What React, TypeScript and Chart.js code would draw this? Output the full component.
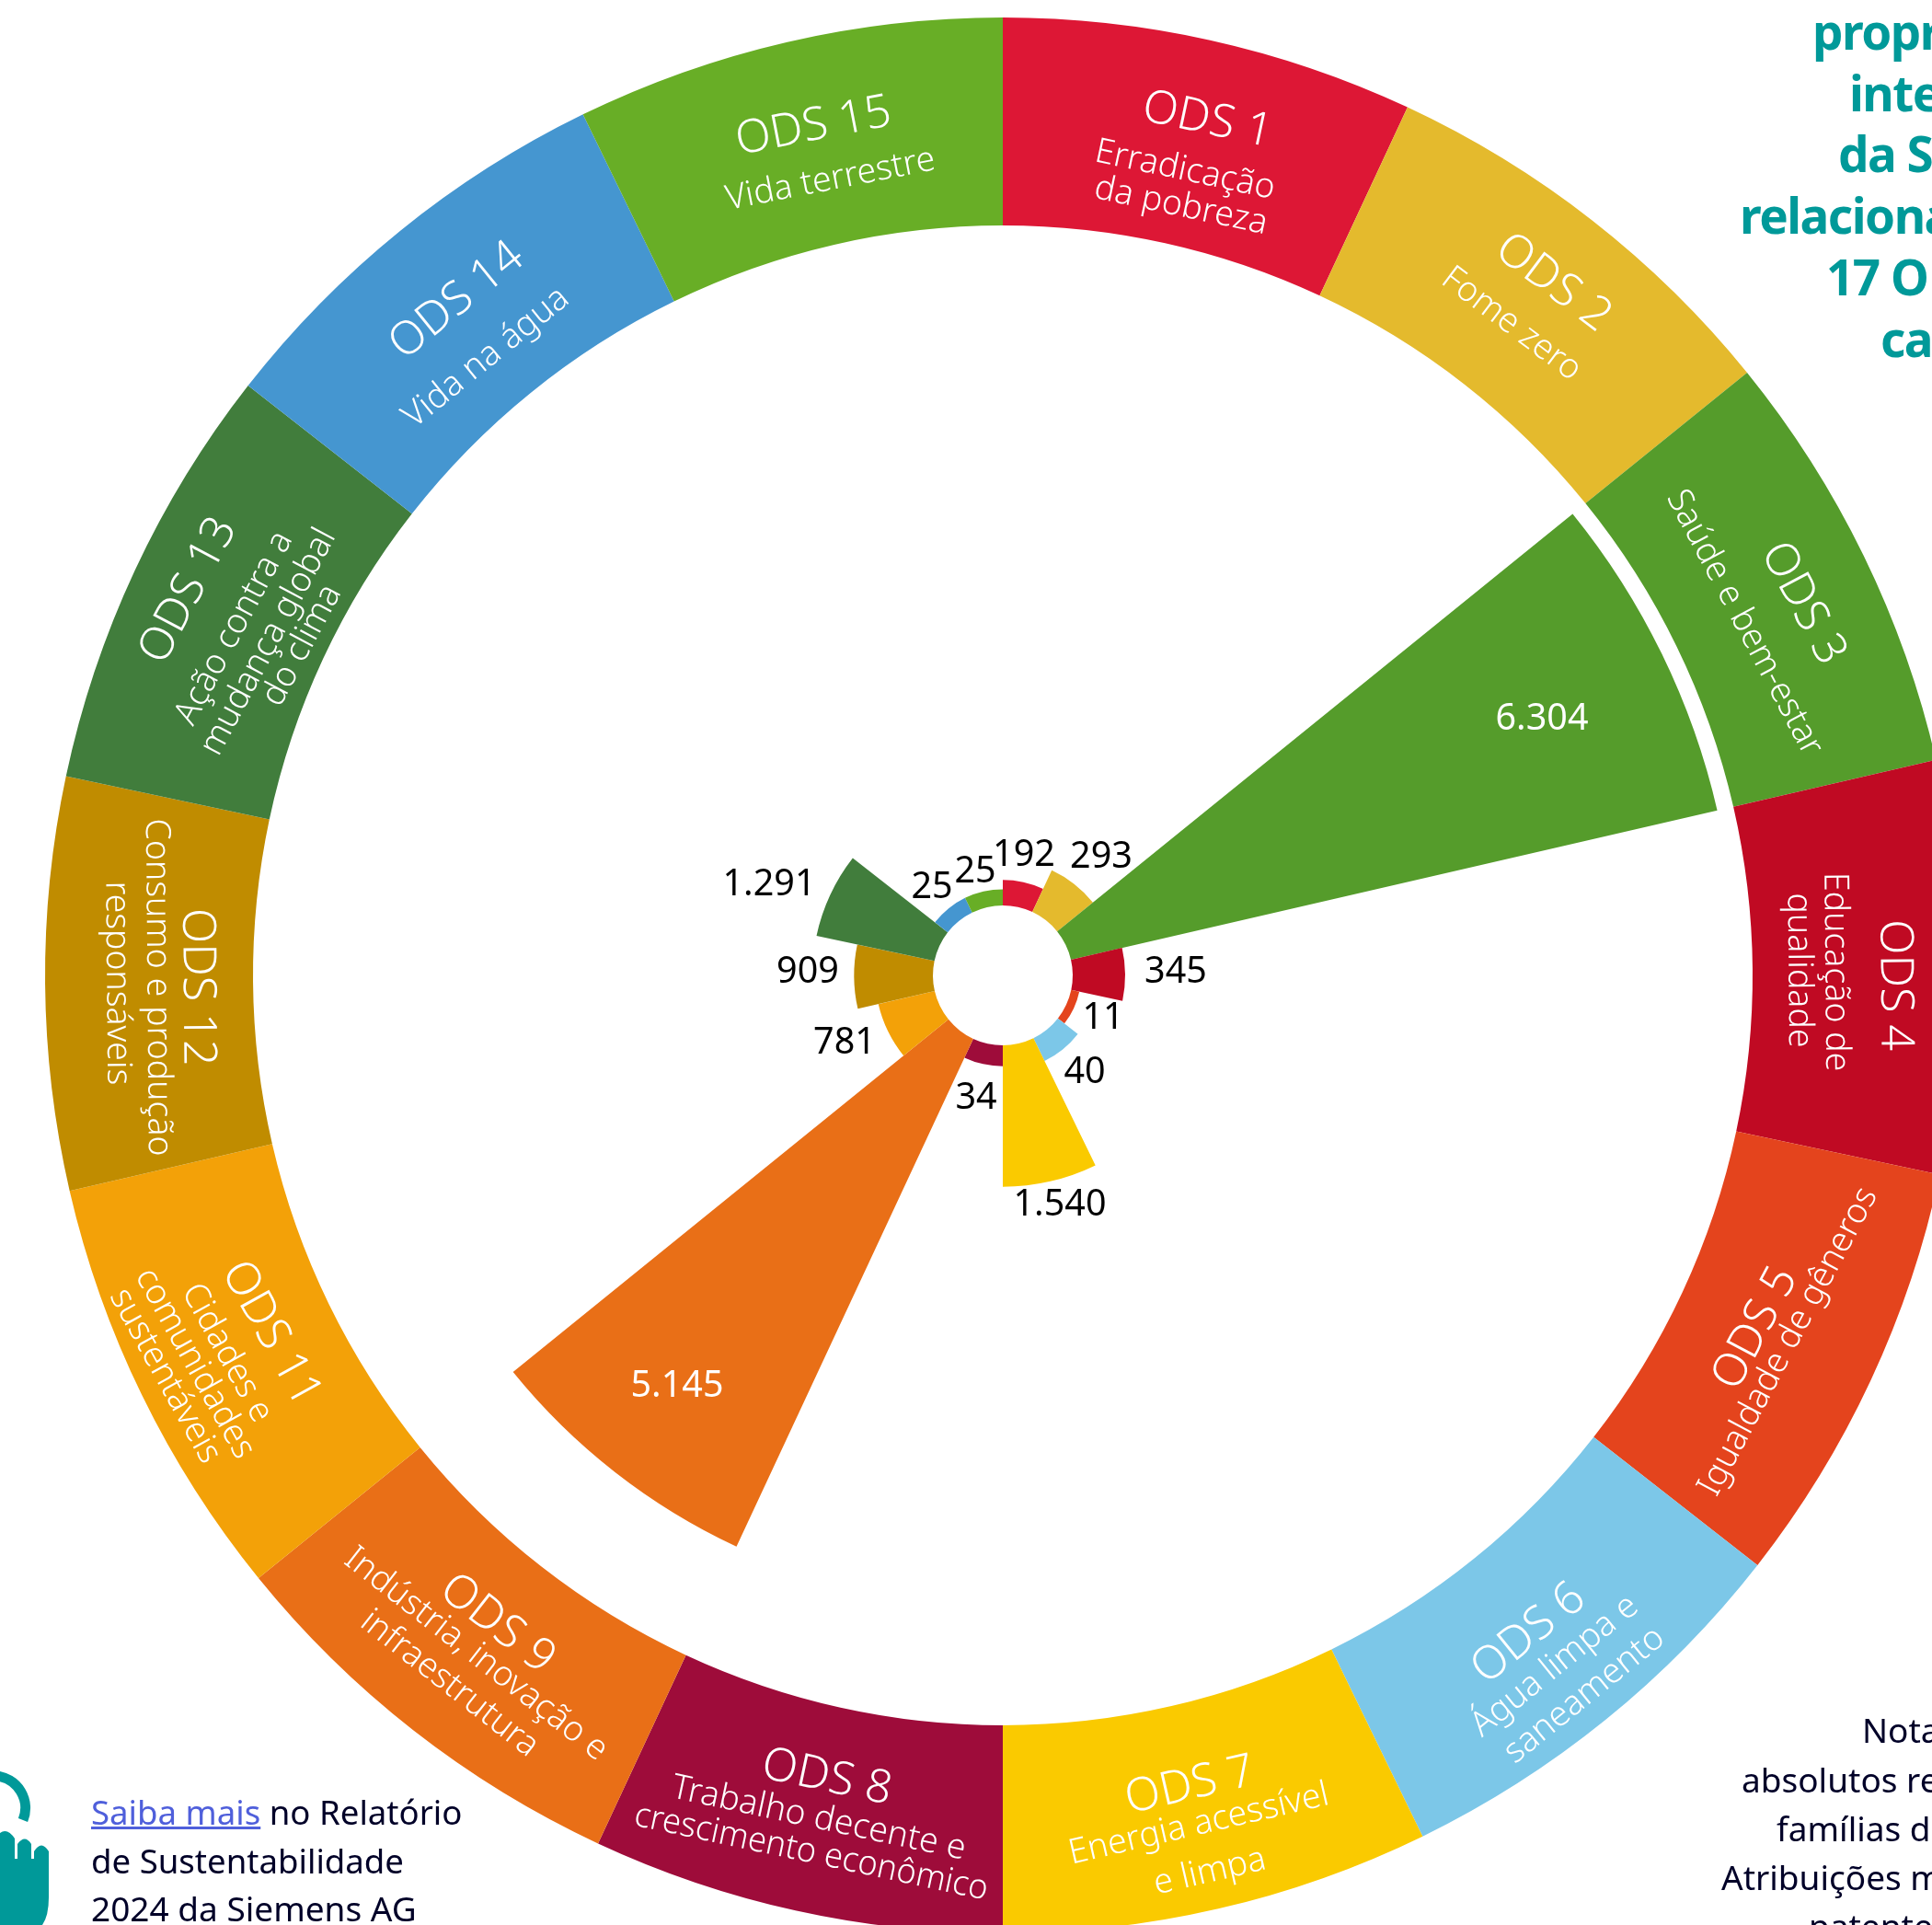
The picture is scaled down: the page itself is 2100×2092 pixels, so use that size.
import React, { useEffect, useRef } from "react";
import { Chart, registerables, RadialLinearScale } from "chart.js";

const categories = ["ODS 1","ODS 2","ODS 3","ODS 4","ODS 5","ODS 6","ODS 7","ODS 8","ODS 9","ODS 11","ODS 12","ODS 13","ODS 14","ODS 15"];
const subtitles = [
  ["Erradicação","da pobreza"],["Fome zero"],["Saúde e bem-estar"],["Educação de","qualidade"],
  ["Igualdade de gêneros"],["Água limpa e","saneamento"],["Energia acessível","e limpa"],
  ["Trabalho decente e","crescimento econômico"],["Indústria, inovação e","infraestrutura"],
  ["Cidades e","comunidades","sustentáveis"],["Consumo e produção","responsáveis"],
  ["Ação contra a","mudança global","do clima"],["Vida na água"],["Vida terrestre"],
];
const patentFamilies = [192,293,6304,345,11,40,1540,34,5145,781,909,1291,25,25];
const sectorDegrees = [25,26,26,25,26,26,26,25,26,26,25,26,26,26];
const colors = ["#DD1735","#E4BA2D","#559C2B","#C00A23","#E4441D","#7CC7E8","#FACA00","#9E0C3A","#E96F17","#F3A108","#C08C00","#417D3C","#4596D0","#68AE26"];

// The reference's radial axis is not linear: stops of value -> distance from centre
const axisValues = [0,11,25,34,40,192,293,345,781,909,1291,1540,5145,6304];
const axisRadii = [76,85,93.6,98.7,103.5,103.7,126,133,138.8,161.7,207,229.7,685,797];

// Layout (pixels / degrees)
const CX = 1090, CY = 1060, OUTER = 1041, RING_INNER = 815, HOLE = 76;
const ringLabelRadii = [
  [955,897,858],[961,898],[958,892],[969,905,865],[904,942],[916,961,1006],[904,947,1000],
  [893,938,976],[894,934,977],[886,938,974,1009],[876,919,963],[979,916,876,842],[943,875],[945,885],
];
const ringLabelShift = [
  [16,4,8],[8,0],[18,9],[19,4,2],[-2,0],[-6,-6,-1],[0,0,0],
  [2,3,3],[1,3,0],[1,-1,-6,-8],[5,5,0],[5,-11,-9,3],[0,-14],[7,12],
];
const ringLabelRotation = [12,37,62,89.5,-62,-39,-13,12,38,61,89.5,-62,-39,-11];
const valueLabelOffsets = [
  [23,-130],[107,-128],[586,-278],[188,-3],[109,47],[89,106],[62,250],[-29,134],[-354,447],[-172,74],[-212,-3],[-254,-98],[-77,-95],[-30,-112],
];
const FONT = '"Noto Sans", sans-serif';
const fmt = (v: number) => String(v).replace(/\B(?=(\d{3})+$)/g, ".");

class StopRadialScale extends RadialLinearScale {
  static id = "stopRadial";
  static defaults = RadialLinearScale.defaults;
  getDistanceFromCenterForValue(value: number) {
    for (let i = 1; i < axisValues.length; i++) {
      if (value <= axisValues[i]) {
        const t = (value - axisValues[i - 1]) / (axisValues[i] - axisValues[i - 1]);
        return axisRadii[i - 1] + t * (axisRadii[i] - axisRadii[i - 1]);
      }
    }
    return axisRadii[axisRadii.length - 1];
  }
}
Chart.register(...registerables, StopRadialScale);

const holePlugin = {
  id: "hole",
  afterDatasetsUpdate(chart: any) {
    chart.getDatasetMeta(0).data.forEach((arc: any) => { arc.innerRadius = HOLE; });
  },
};

const textPlugin = {
  id: "texts",
  afterDatasetsDraw(chart: any) {
    const ctx = chart.ctx;
    const meta = chart.getDatasetMeta(0);
    ctx.save();
    ctx.textAlign = "center";
    ctx.textBaseline = "middle";
    let start = 0;
    categories.forEach((cat, i) => {
      const theta = ((start + sectorDegrees[i] / 2) * Math.PI) / 180;
      start += sectorDegrees[i];
      const lines = [cat, ...subtitles[i]];
      lines.forEach((line, k) => {
        const r = ringLabelRadii[i][k];
        const x = CX + r * Math.sin(theta);
        const y = CY - r * Math.cos(theta);
        ctx.save();
        ctx.translate(x, y);
        ctx.rotate((ringLabelRotation[i] * Math.PI) / 180);
        ctx.fillStyle = "#ffffff";
        ctx.font = k === 0 ? `300 50px ${FONT}` : `300 37.5px ${FONT}`;
        ctx.fillText(line, ringLabelShift[i][k], 0, 392);
        ctx.restore();
      });
    });
    patentFamilies.forEach((v, i) => {
      const [dx, dy] = valueLabelOffsets[i];
      ctx.fillStyle = v > 5000 ? "#ffffff" : "#000000";
      ctx.font = `39.5px ${FONT}`;
      ctx.fillText(fmt(v), meta.data[i].x + dx, meta.data[i].y + dy);
    });
    ctx.restore();
  },
};

const headingLines: [string, number, number][] = [
  ["propr",1970,53],["inte",2010,120],["da S",1998,186],["relaciona",1891,253],["17 O",1985,320],["ca",2044,387],
];
const noteLines: [string, number, number][] = [
  ["Nota",2024,1893],["absolutos re",1893,1947],["famílias d",1931,2000],["Atribuições m",1871,2053],["patente",1966,2106],
];

function Txt({ x, y, size, color, weight, spacing, children }: any) {
  return (
    <div style={{ position: "absolute", left: x, top: y - size, lineHeight: `${size * 1.3}px`, height: size * 1.3, fontFamily: FONT, fontSize: size, fontWeight: weight || 400, letterSpacing: spacing || 0, color, whiteSpace: "nowrap" }}>
      {children}
    </div>
  );
}

export default function App() {
  const ref = useRef<HTMLCanvasElement>(null);
  useEffect(() => {
    document.body.style.margin = "0";
    const chart = new Chart(ref.current!, {
      type: "doughnut",
      data: {
        labels: categories,
        datasets: [
          { type: "polarArea", data: patentFamilies, angle: sectorDegrees, backgroundColor: colors, borderWidth: 0, weight: 0 } as any,
          { type: "doughnut", data: sectorDegrees, backgroundColor: colors, borderWidth: 0, hoverOffset: 0, cutout: RING_INNER } as any,
        ],
      },
      options: {
        responsive: false,
        animation: false,
        layout: { padding: { top: CY - OUTER, bottom: CY - OUTER, left: 0, right: 0 } },
        scales: {
          r: { type: "stopRadial", display: false, min: 0, max: 6304, pointLabels: { display: false }, ticks: { display: false }, grid: { display: false } } as any,
        },
        plugins: { legend: { display: false }, tooltip: { enabled: false } },
      } as any,
      plugins: [holePlugin, textPlugin],
    });
    return () => chart.destroy();
  }, []);
  return (
    <div style={{ position: "fixed", left: 0, top: 0, width: 2100, height: 2092, overflow: "hidden", background: "#fff" }}>
      <canvas ref={ref} width={CX * 2} height={CY * 2} style={{ position: "absolute", left: 0, top: 0, display: "block" }} />
      {headingLines.map(([t, x, y]) => (
        <Txt key={t} x={x} y={y} size={53} color="#009999" weight={700} spacing="-1.5px">{t}</Txt>
      ))}
      {noteLines.map(([t, x, y]) => (
        <Txt key={t} x={x} y={y} size={37} color="#000028">{t}</Txt>
      ))}
      <Txt x={99} y={1983} size={36.6} color="#000028">
        <a href="#" style={{ color: "#4F5FDB" }}>Saiba mais</a> no Relatório
      </Txt>
      <Txt x={99} y={2036} size={36.6} color="#000028">de Sustentabilidade</Txt>
      <Txt x={99} y={2087} size={37} color="#000028">2024 da Siemens AG</Txt>
      <svg width={60} height={180} style={{ position: "absolute", left: 0, top: 1912 }}>
        <path d="M-4 18 A35 35 0 0 1 25 66" fill="none" stroke="#009999" strokeWidth={11} />
        <path d="M0 80 Q8 74 16 86 L16 108 L19 108 L19 92 Q27 81 34 92 L34 108 L37 108 L37 100 Q45 87 53 100 L53 150 Q53 170 46 180 L0 180 Z" fill="#009999" />
      </svg>
    </div>
  );
}
